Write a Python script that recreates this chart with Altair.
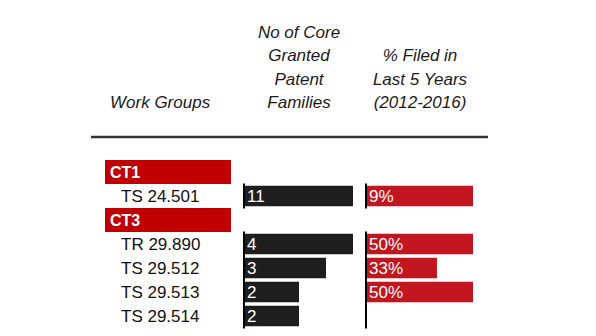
import altair as alt
import pandas as pd

# ---- data ----
groups = ["CT1", "CT3"]
items = ["TS 24.501", "TR 29.890", "TS 29.512", "TS 29.513", "TS 29.514"]
item_group = ["CT1", "CT3", "CT3", "CT3", "CT3"]
families = [11, 4, 3, 2, 2]
pct_filed = [9, 50, 33, 50, None]

header_groups = ["Work Groups"]
header_families = ["No of Core", "Granted", "Patent", "Families"]
header_pct = ["% Filed in", "Last 5 Years", "(2012-2016)"]

rows = []
for g in groups:
    rows.append({"label": g, "kind": "group", "grp": g, "fam": None, "pct": None})
    for it, ig, f, p in zip(items, item_group, families, pct_filed):
        if ig == g:
            rows.append({"label": it, "kind": "item", "grp": g, "fam": f, "pct": p})
df = pd.DataFrame(rows)
order = list(df["label"])

FONT = "Liberation Sans"
ROW = 24
H = ROW * len(order)

y_enc = alt.Y("label:N", sort=order, axis=None,
              scale=alt.Scale(domain=order, paddingInner=0, paddingOuter=0))

base = alt.Chart(df)

def title(lines, anchor="middle", dx=0, offset=35):
    kw = dict(text=lines, fontStyle="italic", fontWeight="normal", fontSize=17,
              font=FONT, color="#1a1a1a", lineHeight=23.3, baseline="alphabetic",
              anchor=anchor, offset=offset, frame="group")
    if dx:
        kw["dx"] = dx
    return alt.TitleParams(**kw)

# ---- panel A: labels ----
grp_rect = base.transform_filter("datum.kind == 'group'").mark_bar(
    color="#c00000", height={"band": 1}
).encode(y=y_enc, x=alt.value(0), x2=alt.value(126))
grp_text = base.transform_filter("datum.kind == 'group'").mark_text(
    align="left", baseline="middle", font=FONT, fontSize=16, fontWeight="bold",
    color="white", dy=1
).encode(y=y_enc, x=alt.value(5), text="label:N")
item_text = base.transform_filter("datum.kind == 'item'").mark_text(
    align="left", baseline="middle", font=FONT, fontSize=17, color="#111111", dy=1
).encode(y=y_enc, x=alt.value(16), text="label:N")
hrule = alt.Chart(pd.DataFrame({"a": [0]})).mark_rule(
    color="#333333", strokeWidth=2.5
).encode(x=alt.value(-14), x2=alt.value(383), y=alt.value(-23))

panelA = alt.layer(hrule, grp_rect, grp_text, item_text).properties(
    width=126, height=H, title=title(header_groups, anchor="start", dx=5, offset=11)
)

# ---- panel B: families ----
items_b = base.transform_filter("datum.kind == 'item'").transform_joinaggregate(
    mx="max(fam)", groupby=["grp"]
).transform_calculate(norm="datum.fam / datum.mx")
x_b = alt.X("norm:Q", axis=None, scale=alt.Scale(domain=[0, 1], nice=False, zero=True))
vrule_b = base.transform_filter("datum.kind == 'item'").mark_bar(
    color="#000000", height={"band": 1.05}
).encode(y=y_enc, x=alt.value(-2), x2=alt.value(0))
bar_b = items_b.mark_bar(color="#1e1e1e", height={"band": 0.86}).encode(y=y_enc, x=x_b)
txt_b = items_b.mark_text(
    align="left", baseline="middle", font=FONT, fontSize=17, color="white", dy=1
).encode(y=y_enc, x=alt.value(2), text="fam:Q")
panelB = alt.layer(vrule_b, bar_b, txt_b).properties(
    width=108, height=H, title=title(header_families)
)

# ---- panel C: % filed ----
items_c = base.transform_filter("datum.kind == 'item'").transform_joinaggregate(
    mx="max(pct)", groupby=["grp"]
).transform_calculate(norm="datum.pct / datum.mx", lab="datum.pct + '%'")
items_c_valid = items_c.transform_filter("isValid(datum.pct)")
vrule_c = base.transform_filter("datum.kind == 'item'").mark_bar(
    color="#000000", height={"band": 1.05}
).encode(y=y_enc, x=alt.value(-2), x2=alt.value(0))
bar_c = items_c_valid.mark_bar(color="#c1161f", height={"band": 0.86}).encode(y=y_enc, x=x_b)
txt_c = items_c_valid.mark_text(
    align="left", baseline="middle", font=FONT, fontSize=17, color="white", dy=1
).encode(y=y_enc, x=alt.value(2), text="lab:N")
panelC = alt.layer(vrule_c, bar_c, txt_c).properties(
    width=106, height=H, title=title(header_pct)
)

chart = alt.hconcat(panelA, panelB, panelC, spacing=14, bounds="flush").properties(
    padding={"left": 89, "top": 24, "right": 0, "bottom": 0},
    background="white",
).configure_view(stroke=None)

chart.save("out.html", embed_options={"renderer": "svg", "actions": False})
